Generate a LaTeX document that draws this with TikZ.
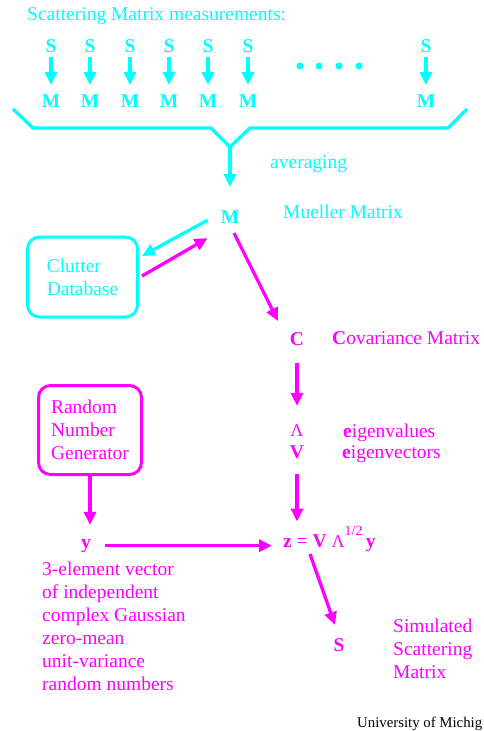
\documentclass[tikz,border=0pt]{standalone}
\usepackage{fontspec}
\setmainfont{Liberation Serif}
\usepackage{tikz}
\usetikzlibrary{arrows.meta}

\definecolor{scatcyan}{RGB}{0,255,255}
\definecolor{scatmag}{RGB}{255,0,255}
\newcommand{\bigtxt}{\fontsize{19.5}{23}\selectfont}
\newcommand{\lamsz}{\fontsize{18}{18}\selectfont}

\begin{document}
\begin{tikzpicture}[x=1pt,y=-1pt,
  cy/.style={color=scatcyan},
  mg/.style={color=scatmag},
  lbl/.style={inner sep=0pt,anchor=base west,font=\bigtxt},
  sym/.style={inner sep=0pt,anchor=base,font=\bigtxt\bfseries},
  para/.style={inner sep=0pt,anchor=north west,align=left,font=\bigtxt},
  store/.style={draw,line width=3pt,rounded corners=12pt,align=left,font=\bigtxt,inner sep=0pt},
  flow/.style={line width=3.3pt,-{Triangle[length=13pt,width=12pt]}}]
\useasboundingbox (0,0) rectangle (484,731);
\clip (0,0) rectangle (484,731);

\node[lbl,cy] (title) at (27,20) {Scattering Matrix measurements:};

\node[sym,cy] (S1) at (51,52) {S};
\node[sym,cy] (S2) at (90,52) {S};
\node[sym,cy] (S3) at (130,52) {S};
\node[sym,cy] (S4) at (169,52) {S};
\node[sym,cy] (S5) at (208,52) {S};
\node[sym,cy] (S6) at (248,52) {S};
\node[sym,cy] (Sn) at (426,52) {S};
\node[sym,cy] (M1) at (51,107) {M};
\node[sym,cy] (M2) at (90,107) {M};
\node[sym,cy] (M3) at (130,107) {M};
\node[sym,cy] (M4) at (169,107) {M};
\node[sym,cy] (M5) at (208,107) {M};
\node[sym,cy] (M6) at (248,107) {M};
\node[sym,cy] (Mn) at (426,107) {M};

\draw[flow,cy,shorten <=5pt,shorten >=9pt] (S1) -- (M1);
\draw[flow,cy,shorten <=5pt,shorten >=9pt] (S2) -- (M2);
\draw[flow,cy,shorten <=5pt,shorten >=9pt] (S3) -- (M3);
\draw[flow,cy,shorten <=5pt,shorten >=9pt] (S4) -- (M4);
\draw[flow,cy,shorten <=5pt,shorten >=9pt] (S5) -- (M5);
\draw[flow,cy,shorten <=5pt,shorten >=9pt] (S6) -- (M6);
\draw[flow,cy,shorten <=5pt,shorten >=9pt] (Sn) -- (Mn);

% dots between the columns
\fill[cy] (300,66) circle (3.5pt) (319,66) circle (3.5pt)
  (339,66) circle (3.5pt) (359,66) circle (3.5pt);

% brace
\draw[cy,line width=3.3pt] (13,109) -- (33,128) -- (211,128) -- (230,147)
  -- (250,128) -- (448,128) -- (467,109);
\coordinate (avg) at (230,147);
\node[lbl,cy] (avglbl) at (270,168) {averaging};

\node[sym,cy] (mueller) at (230,223) {M};
\node[lbl,cy] (muellerlbl) at (283,218) {Mueller Matrix};
\draw[flow,cy,shorten >=23pt] (avg) -- (mueller);

\node[store,cy,minimum width=110pt,minimum height=80pt] (clutter) at (82.5,277) {Clutter\\Database};
\draw[flow,cy] ([xshift=-13pt,yshift=-3.5pt]mueller.west) -- ([xshift=3pt,yshift=21pt]clutter.east);
\draw[flow,mg] ([xshift=3pt,yshift=1pt]clutter.east) -- ([xshift=-13pt,yshift=-21.5pt]mueller.west);

\node[sym,mg] (cov) at (297,345) {C};
\node[lbl,mg] (covlbl) at (332,344) {\textbf{C}ovariance Matrix};
\draw[flow,mg] ([xshift=4pt,yshift=-10pt]mueller.base) -- ([xshift=-19pt,yshift=24pt]cov.base);

\node[sym,mg,font=\lamsz] (lam) at (297,436) {Λ};
\node[sym,mg] (eigV) at (297,458) {V};
\node[lbl,mg] (evallbl) at (343,437) {\textbf{e}igenvalues};
\node[lbl,mg] (eveclbl) at (342,458) {\textbf{e}igenvectors};
\draw[flow,mg,shorten <=18pt,shorten >=18pt] (cov) -- (lam);

\node[store,mg,minimum width=103pt,minimum height=89pt] (rng) at (90,430) {Random\\Number\\Generator};
\node[sym,mg] (yvec) at (86,548) {y};
\node[para,mg] (ylbl) at (42,561.5) {3-element vector\\of independent\\complex Gaussian\\zero-mean\\unit-variance\\random numbers};
\draw[flow,mg,shorten >=14pt] (rng.south) -- (rng.south |- yvec.north);

\node[lbl,mg] (zeq) at (283,547) {\textbf{z} = \textbf{V} {\lamsz Λ}\raisebox{12pt}{\fontsize{14}{14}\selectfont 1/2}\,\textbf{y}};
\draw[flow,mg,shorten <=15pt,shorten >=4pt] (eigV) -- (eigV |- zeq.north);
\draw[flow,mg,shorten <=14pt,shorten >=11pt] (yvec.east) -- (yvec.east -| zeq.west);

\node[sym,mg] (simS) at (339,651) {S};
\node[para,mg] (simlbl) at (393,618.5) {Simulated\\Scattering\\Matrix};
\draw[flow,mg] ([xshift=27pt,yshift=-7pt]zeq.base west) -- ([xshift=-4pt,yshift=26pt]simS.base);

\node[lbl,font=\fontsize{14.8}{15}\selectfont] (umich) at (357,727) {University of Michig};
\end{tikzpicture}
\end{document}
